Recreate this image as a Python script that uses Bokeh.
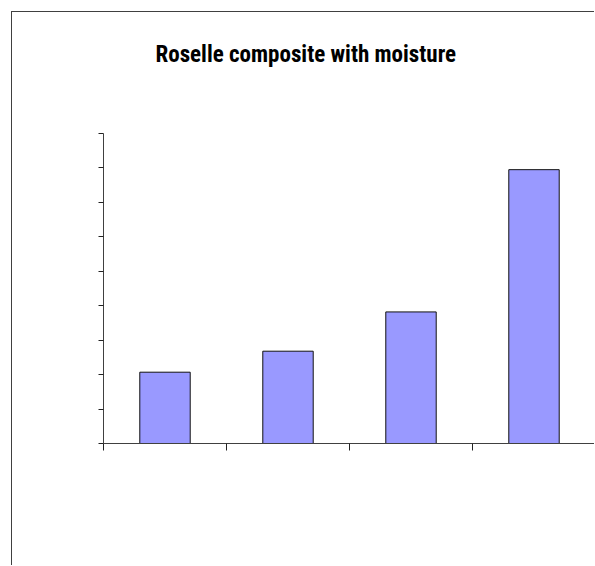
from bokeh.plotting import figure
from bokeh.models import FixedTicker, Range1d, CustomJSTickFormatter, Title
from bokeh.embed import file_html
from bokeh.resources import INLINE

chart_title = "Roselle composite with moisture"
categories = ["S1", "S2", "S3", "S4"]
values = [2.07, 2.68, 3.82, 7.95]
y_ticks = [0, 1, 2, 3, 4, 5, 6, 7, 8, 9]
x_ticks = [0, 1, 2, 3, 4]

xs = [i + 0.5 for i in range(len(categories))]

p = figure(width=583, height=554, output_backend="svg", toolbar_location=None,
           x_range=Range1d(0, len(categories)), y_range=Range1d(0, 9),
           min_border_left=91, min_border_right=0, min_border_top=121,
           min_border_bottom=123,
           background_fill_color="white", border_fill_color="white",
           styles={"margin-left": "11px", "margin-top": "11px",
                   "border-left": "1px solid #404040",
                   "border-top": "1px solid #404040"})

# spacer between title and plot frame
p.add_layout(Title(text=" ", text_font_size="10px", standoff=51), "above")

p.title.text = chart_title
p.title.align = "left"
p.title.vertical_align = "top"
p.title.text_font = "Roboto Condensed"
p.title.text_font_size = "23px"
p.title.text_font_style = "bold"
p.title.text_color = "black"
p.title.standoff = 0
p.title.offset = 52

p.vbar(x=xs, top=values, width=0.41, bottom=0,
       fill_color="#9999FF", line_color="#111111", line_width=1)

p.xgrid.visible = False
p.ygrid.visible = False
p.outline_line_color = None

p.xaxis.ticker = FixedTicker(ticks=x_ticks)
p.yaxis.ticker = FixedTicker(ticks=y_ticks)
for ax in (p.xaxis, p.yaxis):
    ax.formatter = CustomJSTickFormatter(code="return ''")
    ax.minor_tick_line_color = None
    ax.major_tick_in = 0
    ax.axis_line_color = "#404040"
    ax.major_tick_line_color = "#222222"
p.xaxis.major_tick_out = 7
p.yaxis.major_tick_out = 5

open("out.html", "w").write(file_html(p, INLINE))
